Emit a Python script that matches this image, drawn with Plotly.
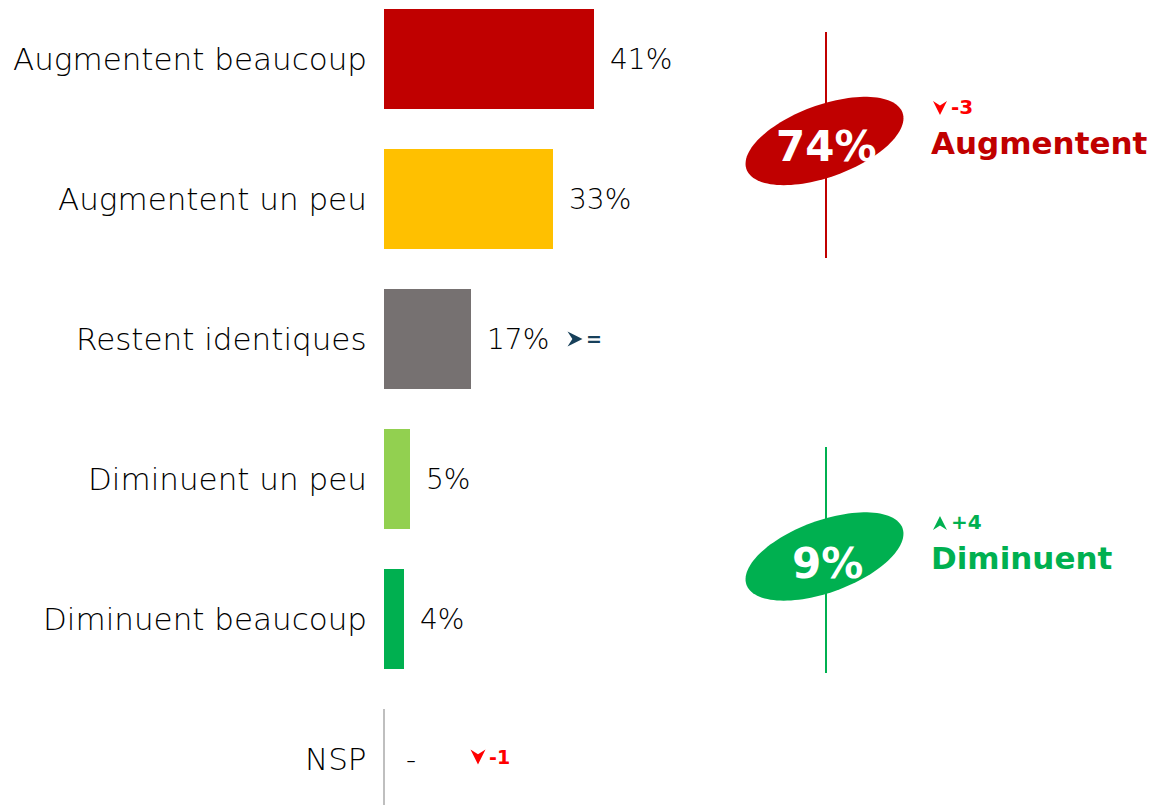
import numpy as np
import plotly.graph_objects as go

# ---------------- data ----------------
categories = ["Augmentent beaucoup", "Augmentent un peu", "Restent identiques",
              "Diminuent un peu", "Diminuent beaucoup", "NSP"]
values = [41, 33, 17, 5, 4, None]
value_labels = ["41%", "33%", "17%", "5%", "4%", "-"]
bar_colors = ["#C00000", "#FFC000", "#767171", "#92D050", "#00B050", "#BFBFBF"]
trend_text = ["", "", "=", "", "", "-1"]
trend_dir = ["", "", "right", "", "", "down"]

groups = ["Augmentent", "Diminuent"]
group_totals = [74, 9]
group_delta = ["-3", "+4"]
group_dir = ["down", "up"]
group_colors = ["#C00000", "#00B050"]

# ---------------- layout helpers ----------------
W, H = 1152, 805
def px(x):
    return x / W
def py(y):
    return 1 - y / H

LIGHT = dict(family="DejaVu Sans", size=31, color="#000000", weight=200)
VAL = dict(family="DejaVu Sans", size=28, color="#000000", weight=200)
BOLD = "DejaVu Sans"

fig = go.Figure()
xs = [v if v is not None else 0 for v in values]
fig.add_trace(go.Bar(
    x=xs, y=categories, orientation="h",
    marker=dict(color=bar_colors, line=dict(width=0)),
    width=0.714, hoverinfo="skip", showlegend=False,
))

shapes = []
annotations = []

# category labels & value labels
for i, (cat, v, lab) in enumerate(zip(categories, xs, value_labels)):
    annotations.append(dict(x=0, y=cat, xref="x", yref="y", text=cat, showarrow=False,
                            xanchor="right", yanchor="middle", xshift=-15, font=LIGHT))
    annotations.append(dict(x=v, y=cat, xref="x", yref="y", text=lab, showarrow=False,
                            xanchor="left", yanchor="middle", xshift=14 if v else 20, font=VAL))

# NSP zero line
shapes.append(dict(type="line", xref="x", yref="y", x0=0, x1=0,
                   y0=5 - 0.357, y1=5 + 0.357, line=dict(color="#BFBFBF", width=2)))

def arrow_path(cx, cy, s, direction):
    # notched arrowhead, pixel coords
    if direction == "down":
        pts = [(cx - s, cy - s), (cx, cy - 0.35 * s), (cx + s, cy - s), (cx, cy + s)]
    elif direction == "up":
        pts = [(cx - s, cy + s), (cx, cy + 0.35 * s), (cx + s, cy + s), (cx, cy - s)]
    else:  # right
        pts = [(cx - s, cy - s), (cx + s, cy), (cx - s, cy + s), (cx - 0.35 * s, cy)]
    return "M" + " L".join(f"{px(x):.5f},{py(y):.5f}" for x, y in pts) + " Z"

dir_color = {"down": "#FF0000", "up": "#00B050", "right": "#17405A"}

# trend markers in bar section
trend_pos = {2: (575, 339), 5: (478, 757)}
for i, (t, d) in enumerate(zip(trend_text, trend_dir)):
    if not t:
        continue
    cx, cy = trend_pos[i]
    shapes.append(dict(type="path", xref="paper", yref="paper",
                       path=arrow_path(cx, cy, 7.5, d),
                       fillcolor=dir_color[d], line=dict(width=0)))
    annotations.append(dict(x=px(cx + 9), y=py(cy), xref="paper", yref="paper", text=f"<b>{t}</b>",
                            showarrow=False, xanchor="left", yanchor="middle",
                            font=dict(family=BOLD, size=19, color=dir_color[d])))

# right side summary
ell_centers = [(824.5, 141), (824.5, 556.5)]
txt_centers = [(826, 146), (827, 563)]
label_y = [143, 558]
delta_y = [108, 523]
line_spans = [(32, 258), (447, 673)]
a, b, th = 83, 36, np.deg2rad(20)
t = np.linspace(0, 2 * np.pi, 120)
for k, (g, tot, dl, dr, col) in enumerate(zip(groups, group_totals, group_delta, group_dir, group_colors)):
    cx, cy = ell_centers[k]
    y0, y1 = line_spans[k]
    shapes.append(dict(type="line", xref="paper", yref="paper", x0=px(826), x1=px(826),
                       y0=py(y0), y1=py(y1), line=dict(color=col, width=2)))
    ex = cx + a * np.cos(t) * np.cos(th) + b * np.sin(t) * np.sin(th)
    ey = cy - a * np.cos(t) * np.sin(th) + b * np.sin(t) * np.cos(th)
    path = "M" + " L".join(f"{px(x):.5f},{py(y):.5f}" for x, y in zip(ex, ey)) + " Z"
    shapes.append(dict(type="path", xref="paper", yref="paper", path=path,
                       fillcolor=col, line=dict(width=0), layer="above"))
    tx, ty = txt_centers[k]
    annotations.append(dict(x=px(tx), y=py(ty), xref="paper", yref="paper",
                            text=f"<b>{tot}%</b>", showarrow=False,
                            xanchor="center", yanchor="middle",
                            font=dict(family=BOLD, size=42, color="white")))
    annotations.append(dict(x=px(929), y=py(label_y[k]), xref="paper", yref="paper",
                            text=f"<b>{g}</b>", showarrow=False, xanchor="left", yanchor="middle",
                            font=dict(family=BOLD, size=31, color=col)))
    ay = delta_y[k]
    shapes.append(dict(type="path", xref="paper", yref="paper",
                       path=arrow_path(940, ay, 7, dr),
                       fillcolor=dir_color[dr], line=dict(width=0)))
    annotations.append(dict(x=px(949), y=py(ay - 1), xref="paper", yref="paper",
                            text=f"<b>{dl}</b>", showarrow=False, xanchor="left", yanchor="middle",
                            font=dict(family=BOLD, size=20, color=dir_color[dr])))

fig.update_layout(
    width=W, height=H, margin=dict(l=0, r=0, t=0, b=0),
    paper_bgcolor="white", plot_bgcolor="white",
    xaxis=dict(range=[-75, 150], visible=False, fixedrange=True),
    yaxis=dict(categoryorder="array", categoryarray=categories,
               range=[(805 - 59) / 140, -59 / 140], visible=False, fixedrange=True),
    shapes=shapes, annotations=annotations, bargap=0,
)
fig.write_html("out.html", config={"displayModeBar": False},
               post_script="document.body.style.margin='0';")
